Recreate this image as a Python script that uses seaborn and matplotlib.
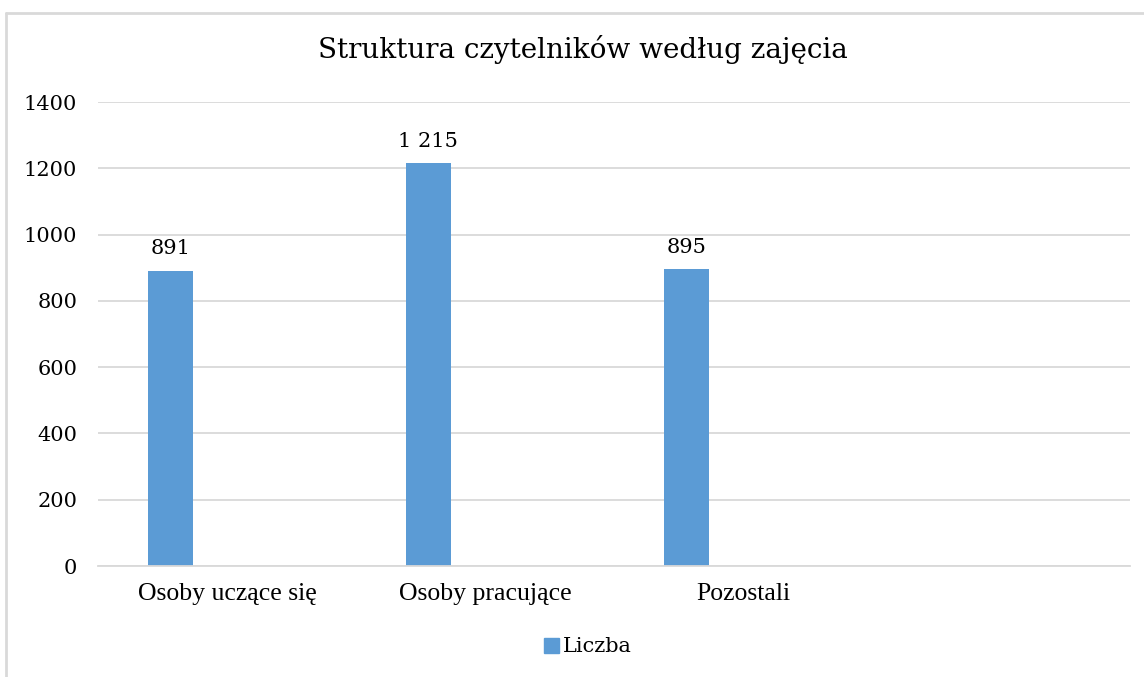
import pandas as pd
import matplotlib.pyplot as plt
import seaborn as sns
from matplotlib.patches import Patch
from matplotlib.lines import Line2D

# data
categories = ["Osoby uczące się", "Osoby pracujące", "Pozostali"]
values = [891, 1215, 895]
value_labels = ["891", "1 215", "895"]
series_name = "Liczba"
y_ticks = [0, 200, 400, 600, 800, 1000, 1200, 1400]

df = pd.DataFrame({"Zajęcie": categories, "Liczba": values, "Seria": series_name})

sns.set_style("white")
plt.rcParams["font.family"] = ["DejaVu Serif"]
plt.rcParams["text.color"] = "black"
plt.rcParams["xtick.color"] = "black"
plt.rcParams["ytick.color"] = "black"

bar_color = "#5B9BD5"
grid_color = "#d9d9d9"

fig = plt.figure(figsize=(11.44, 6.77), dpi=100)
ax = fig.add_axes([98 / 1144, 1 - 566 / 677, 1032 / 1144, 464 / 677])

# empty extra series / category keep the Excel-like slot layout
sns.barplot(
    data=df, x="Zajęcie", y="Liczba", hue="Seria",
    order=categories + [""], hue_order=[series_name, " ", "  "],
    palette=[bar_color] * 3, width=0.66, gap=0.21, dodge=True,
    saturation=1, linewidth=0, legend=False, ax=ax,
)

ax.set_ylim(0, 1400)
ax.set_yticks(y_ticks)
ax.set_xlabel("")
ax.set_ylabel("")
ax.yaxis.grid(True, color=grid_color, lw=1.3)
ax.set_axisbelow(True)
for side in ["top", "right", "left"]:
    ax.spines[side].set_visible(False)
ax.spines["bottom"].set_color(grid_color)
ax.spines["bottom"].set_linewidth(1.3)

ax.tick_params(axis="y", length=0, pad=15, labelsize=15, labelcolor="black")
ax.tick_params(axis="x", length=0, pad=12, labelcolor="black")
for lbl in ax.get_xticklabels():
    lbl.set_family(["Liberation Serif"])
    lbl.set_fontsize(18.5)

cont = [c for c in ax.containers if len(c) > 0][0]
ax.bar_label(cont, labels=value_labels, padding=9, fontsize=15, color="black")

fig.text(583 / 1144, 1 - 50 / 677, "Struktura czytelników według zajęcia",
         ha="center", va="center", fontsize=20, color="black")

fig.legend(handles=[Patch(color=bar_color)], labels=[series_name],
           loc="center", bbox_to_anchor=(588 / 1144, 1 - 647 / 677),
           frameon=False, handlelength=0.7, handleheight=0.7,
           handletextpad=0.2, fontsize=15, labelcolor="black")

# chart frame (cropped at right / bottom)
fig.add_artist(Line2D([6 / 1144, 6 / 1144], [0, 1 - 12.5 / 677],
                      transform=fig.transFigure, color=grid_color, lw=2))
fig.add_artist(Line2D([6 / 1144, 1], [1 - 12.5 / 677, 1 - 12.5 / 677],
                      transform=fig.transFigure, color=grid_color, lw=2))

fig.savefig("out.png", dpi=100)
